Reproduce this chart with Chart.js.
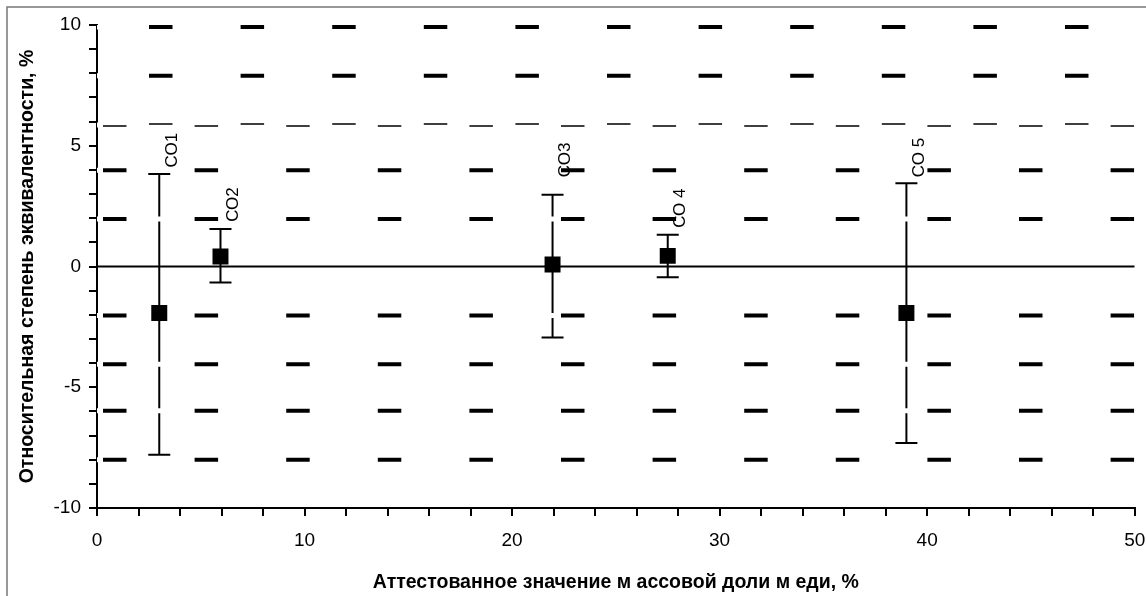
<!doctype html>
<html lang="ru">
<head>
<meta charset="utf-8">
<script src="https://cdn.jsdelivr.net/npm/chart.js@4.4.1/dist/chart.umd.min.js"></script>
<title>Относительная степень эквивалентности</title>
<style>
  html, body { margin: 0; padding: 0; background: #fff; }
  #wrap { width: 1146px; height: 596px; }
</style>
</head>
<body>
<div id="wrap"><canvas id="eqChart"></canvas></div>
<script>
// reference samples
const sampleNames = ['СО1', 'СО2', 'СО3', 'СО 4', 'СО 5'];
const certValue   = [3.0, 5.95, 21.95, 27.5, 39.0];      // x, %
const relDegree   = [-1.93, 0.41, 0.08, 0.44, -1.93];    // y, %
const errTop      = [3.83, 1.55, 2.97, 1.31, 3.45];
const errBottom   = [-7.8, -0.66, -2.94, -0.45, -7.31];
const nameAt      = [4.1, 1.85, 3.7, 1.6, 3.7];          // where the label starts

// dashed reference rows
const rowsLate  = [9.92, 7.9];                           // dashes start further right
const rowsEarly = [3.99, 1.97, -2.03, -4.05, -5.97, -8.0];
const thinLate  = [5.9];
const thinEarly = [5.82];
const zeroRow   = [0];

const xRange = [0, 50];
const yRange = [-10, 10];

const FONT = "'Liberation Sans', Arial, sans-serif";

function row(y, w, color, dash, off) {
  return {
    data: [{x: xRange[0], y: y}, {x: xRange[1], y: y}],
    showLine: true, borderColor: color, borderWidth: w,
    borderDash: dash, borderDashOffset: off,
    borderCapStyle: 'butt', pointRadius: 0, pointHoverRadius: 0
  };
}

const DASH = [23.5, 68.1];
const black = [], white = [];
rowsLate.forEach(y => { black.push(row(y, 4, '#000', DASH, 39.6)); white.push(row(y, 5, '#fff', [], 0)); });
rowsEarly.forEach(y => { black.push(row(y, 4, '#000', DASH, 85.6)); white.push(row(y, 5, '#fff', [], 0)); });
thinLate.forEach(y => { black.push(row(y, 1.6, '#000', DASH, 39.6)); white.push(row(y, 3, '#fff', [], 0)); });
thinEarly.forEach(y => { black.push(row(y, 1.6, '#000', DASH, 85.6)); white.push(row(y, 3, '#fff', [], 0)); });

const markers = {
  data: certValue.map((x, i) => ({x: x, y: relDegree[i]})),
  pointStyle: 'rect', pointRadius: 11.3, pointHoverRadius: 11.3,
  backgroundColor: '#000', borderColor: '#000', borderWidth: 0, showLine: false
};
const zero = row(zeroRow[0], 2, '#000', [], 0);

// error bars go under everything else
const errorBars = {
  id: 'errorBars',
  beforeDatasetsDraw(chart) {
    const {ctx, scales: {x, y}} = chart;
    ctx.save();
    ctx.strokeStyle = '#000';
    ctx.lineWidth = 2;
    certValue.forEach((v, i) => {
      const px = x.getPixelForValue(v);
      const t = y.getPixelForValue(errTop[i]);
      const b = y.getPixelForValue(errBottom[i]);
      ctx.beginPath();
      ctx.moveTo(px, t); ctx.lineTo(px, b);
      ctx.moveTo(px - 11, t); ctx.lineTo(px + 11, t);
      ctx.moveTo(px - 11, b); ctx.lineTo(px + 11, b);
      ctx.stroke();
    });
    ctx.restore();
  },
  afterDatasetsDraw(chart) {
    const {ctx, scales: {x, y}} = chart;
    ctx.save();
    ctx.fillStyle = '#000';
    ctx.font = '17px ' + FONT;
    ctx.textAlign = 'left';
    ctx.textBaseline = 'middle';
    sampleNames.forEach((s, i) => {
      ctx.save();
      ctx.translate(x.getPixelForValue(certValue[i]) + 13, y.getPixelForValue(nameAt[i]));
      ctx.rotate(-Math.PI / 2);
      ctx.fillText(s, 0, 0);
      ctx.restore();
    });
    ctx.restore();
  }
};

const frame = {
  id: 'frame',
  beforeDraw(chart) {
    const ctx = chart.ctx;
    ctx.save();
    ctx.fillStyle = '#fff';
    ctx.fillRect(0, 0, chart.width, chart.height);
    ctx.strokeStyle = '#777';
    ctx.lineWidth = 1.5;
    ctx.beginPath();
    ctx.moveTo(7, chart.height + 2); ctx.lineTo(7, 7); ctx.lineTo(chart.width + 2, 7);
    ctx.stroke();
    ctx.restore();
  }
};

new Chart(document.getElementById('eqChart'), {
  type: 'scatter',
  data: { datasets: [markers, zero, ...black, ...white] },
  plugins: [frame, errorBars],
  options: {
    responsive: true,
    maintainAspectRatio: false,
    animation: false,
    events: [],
    layout: { padding: { top: 25, right: 0, left: 0, bottom: 0 } },
    plugins: { legend: { display: false }, tooltip: { enabled: false } },
    scales: {
      x: {
        type: 'linear', min: xRange[0], max: xRange[1],
        afterFit(s) { s.height = 88; s.paddingRight = 11; s.paddingLeft = 0; },
        ticks: {
          stepSize: 2, autoSkip: false, maxRotation: 0, padding: 13,
          color: '#000', font: { family: FONT, size: 19 },
          callback: v => (v % 10 === 0 ? v : '')
        },
        grid: { drawOnChartArea: false, drawTicks: true, tickLength: 8, color: '#000', lineWidth: 2 },
        border: { color: '#000', width: 2 },
        title: {
          display: true, text: 'Аттестованное значение м ассовой доли м еди, %',
          color: '#000', font: { family: FONT, size: 19.5, weight: 'bold' },
          padding: { top: 0, bottom: 2 }
        }
      },
      y: {
        type: 'linear', min: yRange[0], max: yRange[1],
        afterFit(s) { s.width = 97; },
        ticks: {
          stepSize: 1, autoSkip: false, padding: 8,
          color: '#000', font: { family: FONT, size: 19 },
          callback: v => (v % 5 === 0 ? v : '')
        },
        grid: { drawOnChartArea: false, drawTicks: true, tickLength: 8, color: '#000', lineWidth: 2 },
        border: { color: '#000', width: 2 },
        title: {
          display: true, text: 'Относительная степень эквивалентности, %',
          color: '#000', font: { family: FONT, size: 19.5, weight: 'bold' },
          padding: { top: 16, bottom: 0 }
        }
      }
    }
  }
});
</script>
</body>
</html>
